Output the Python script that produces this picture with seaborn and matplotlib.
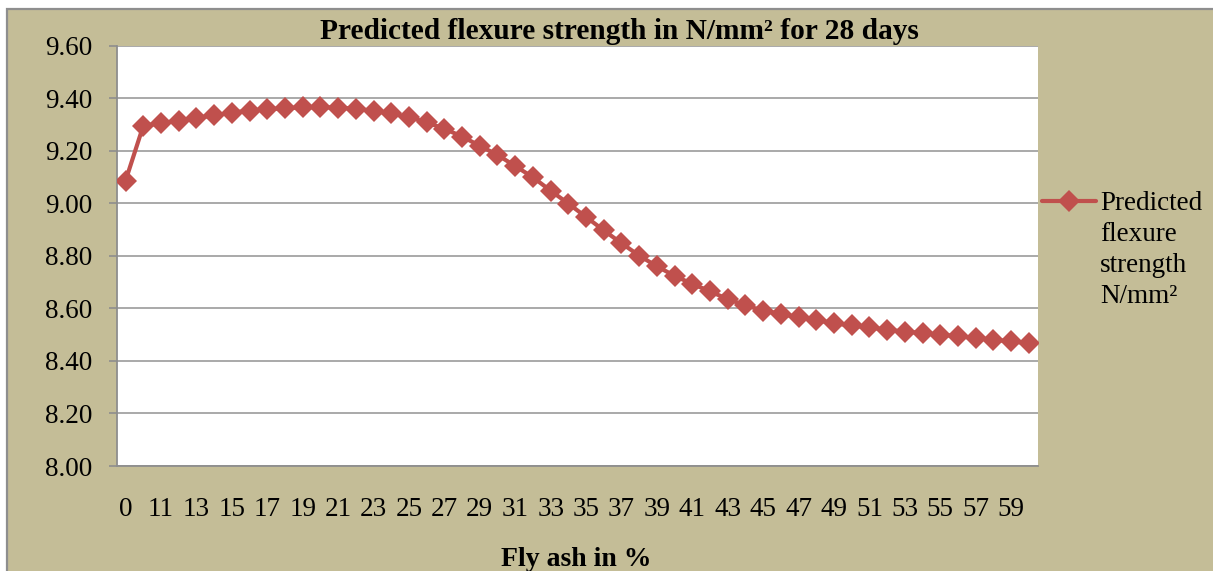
import numpy as np
import pandas as pd
import matplotlib
matplotlib.use("Agg")
import matplotlib.pyplot as plt
from matplotlib.lines import Line2D
from matplotlib.patches import Rectangle
import seaborn as sns

# Fly ash replacement levels (%) and predicted 28-day flexure strength (N/mm²)
fly_ash = [0, 10, 11, 12, 13, 14, 15, 16, 17, 18, 19, 20, 21, 22, 23, 24, 25,
           26, 27, 28, 29, 30, 31, 32, 33, 34, 35, 36, 37, 38, 39, 40, 41, 42,
           43, 44, 45, 46, 47, 48, 49, 50, 51, 52, 53, 54, 55, 56, 57, 58, 59, 60]
strength = [9.086, 9.295, 9.305, 9.315, 9.325, 9.335, 9.345, 9.353, 9.358,
            9.362, 9.365, 9.366, 9.364, 9.360, 9.352, 9.342, 9.328, 9.308,
            9.284, 9.254, 9.219, 9.184, 9.142, 9.099, 9.048, 8.999, 8.948,
            8.897, 8.848, 8.801, 8.760, 8.724, 8.693, 8.665, 8.635, 8.612,
            8.591, 8.579, 8.566, 8.556, 8.543, 8.535, 8.528, 8.518, 8.512,
            8.506, 8.500, 8.494, 8.487, 8.481, 8.474, 8.468]
y_ticks = [8.00, 8.20, 8.40, 8.60, 8.80, 9.00, 9.20, 9.40, 9.60]

title = "Predicted flexure strength in N/mm² for 28 days"
x_label = "Fly ash in %"
series_label = "Predicted\nflexure\nstrength\nN/mm²"

RED = "#C0504D"
TAN = "#C4BD97"
GRID = "#A3A3A3"
AXIS = "#8E8E8E"

sns.set_style("white")
plt.rcParams["font.family"] = ["Liberation Serif", "DejaVu Serif"]

W, H = 1213, 571
fig = plt.figure(figsize=(W / 100, H / 100), dpi=100)
fig.patch.set_facecolor("white")

# chart area background with its border
bg = Rectangle((7 / W, -0.02), 1.05, (H - 9) / H + 0.02, transform=fig.transFigure,
               facecolor=TAN, edgecolor=AXIS, linewidth=1.6, zorder=-5)
fig.add_artist(bg)

ax = fig.add_axes([116.7 / W, 1 - 466 / H, (1037.7 - 116.7) / W, (466 - 45.7) / H])
ax.set_facecolor("white")

df = pd.DataFrame({"pos": np.arange(len(fly_ash)), "strength": strength})
sns.lineplot(data=df, x="pos", y="strength", ax=ax, color=RED, linewidth=3.0,
             marker="D", markersize=11, markeredgewidth=0, zorder=5)

n = len(fly_ash)
ax.set_xlim(-0.5, n - 0.5)
ax.set_ylim(y_ticks[0], y_ticks[-1])
ax.set_yticks(y_ticks)
ax.set_yticklabels([f"{v:.2f}" for v in y_ticks])
ax.set_xticks(np.arange(0, n, 2))
ax.set_xticklabels([str(v) for v in fly_ash[::2]])
ax.set_xticks(np.arange(-0.5, n, 1), minor=True)
ax.set_xlabel("")
ax.set_ylabel("")

ax.tick_params(axis="x", which="major", length=0, pad=22, labelsize=19.5, labelcolor="black")
ax.tick_params(axis="x", which="minor", length=5, width=1.2, color=AXIS, direction="out")
ax.tick_params(axis="y", which="major", length=5.5, width=1.2, color=AXIS, pad=12,
               labelsize=19.5, labelcolor="black", left=True)

ax.grid(axis="y", color=GRID, linewidth=1.3)
ax.grid(axis="x", visible=False)
ax.set_axisbelow(True)
for side in ("top", "right"):
    ax.spines[side].set_visible(False)
for side in ("left", "bottom"):
    ax.spines[side].set_color(AXIS)
    ax.spines[side].set_linewidth(1.3)

fig.text(619 / W, 1 - 39.3 / H, title, ha="center", va="baseline",
         fontsize=21.2, fontweight="bold", color="black")
fig.text(576 / W, 1 - 566.5 / H, x_label, ha="center", va="baseline",
         fontsize=20, fontweight="bold", color="black")

# legend entry
ly = 1 - 201 / H
fig.add_artist(Line2D([1042 / W, 1096 / W], [ly, ly], transform=fig.transFigure,
                      color=RED, linewidth=3.0))
fig.add_artist(Line2D([1069 / W], [ly], transform=fig.transFigure, color=RED,
                      marker="D", markersize=11, markeredgewidth=0, linestyle="none"))
fig.text(1100 / W, 1 - 191 / H, series_label, ha="left", va="top",
         fontsize=19.5, linespacing=1.32, color="black")

fig.savefig("out.png", dpi=100, facecolor=fig.get_facecolor())
